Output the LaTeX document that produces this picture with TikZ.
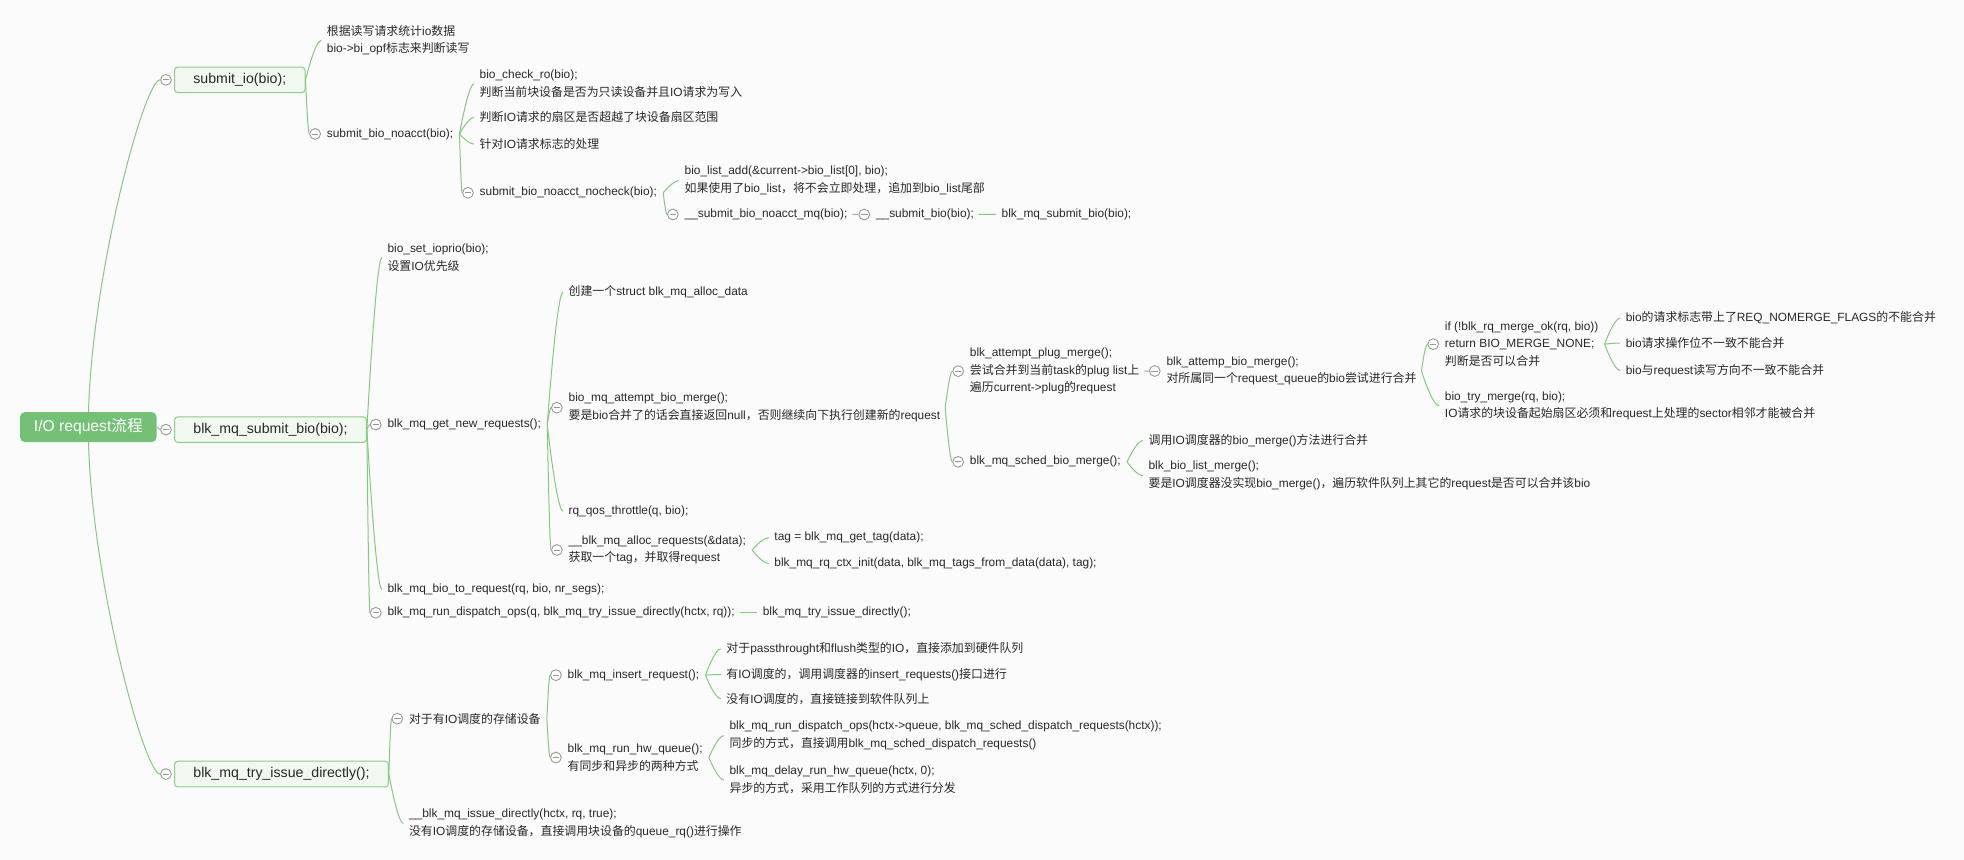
\documentclass[tikz,border=0pt]{standalone}
\usepackage{fontspec}
\setmainfont{Liberation Sans}
\newfontfamily\cjkfont{Noto Sans CJK SC}
\usetikzlibrary{calc,backgrounds}
\XeTeXinterchartokenstate=1
\newXeTeXintercharclass\CJKcls
\makeatletter
\count@="4E00
\loop\XeTeXcharclass\count@=\CJKcls \ifnum\count@<"9FFF \advance\count@ by 1 \repeat
\count@="3000
\loop\XeTeXcharclass\count@=\CJKcls \ifnum\count@<"303F \advance\count@ by 1 \repeat
\count@="FF00
\loop\XeTeXcharclass\count@=\CJKcls \ifnum\count@<"FFEF \advance\count@ by 1 \repeat
\makeatother
\XeTeXinterchartoks 0 \CJKcls = {\cjkfont}
\XeTeXinterchartoks 4095 \CJKcls = {\cjkfont}
\XeTeXinterchartoks \CJKcls 0 = {\rmfamily}
\XeTeXinterchartoks \CJKcls 4095 = {\rmfamily}
\definecolor{linkgreen}{RGB}{132,200,128}
\definecolor{boxgreen}{RGB}{140,205,137}
\definecolor{boxfill}{RGB}{241,248,239}
\definecolor{rootgreen}{RGB}{115,192,118}
\definecolor{foldgray}{RGB}{150,150,150}
\definecolor{txtcol}{RGB}{40,40,40}
\definecolor{bgcol}{RGB}{251,251,251}
\newcommand\lnk[2]{\draw[lnkstyle] let \p1=(#1), \p2=(#2) in (\p1) .. controls (\p1) and ({\x2-0.4*(\x2-\x1)},\y2) .. (\p2);}
\newcommand\rootlnk[2]{\draw[lnkstyle] let \p1=(#1), \p2=(#2) in (\p1) .. controls (\x1,{\y1+0.4*(\y2-\y1)}) and ({\x1+0.77*(\x2-\x1)},\y2) .. (\p2);}
\begin{document}
\begin{tikzpicture}[x=1pt,y=-1pt,
  lnkstyle/.style={draw=linkgreen, line width=0.8pt},
  txt/.style={anchor=base west, inner sep=0pt, outer sep=0pt, align=left, text=txtcol, font=\fontsize{9.5}{14.1}\selectfont},
  fold/.style={circle, draw=foldgray, fill=white, line width=0.7pt, minimum size=8.6pt, inner sep=0pt,
    path picture={\draw[foldgray, line width=0.7pt] ([xshift=-2.6pt]path picture bounding box.center) -- ([xshift=2.6pt]path picture bounding box.center);}},
  topic/.style={anchor=west, draw=boxgreen, fill=boxfill, rounded corners=2.5pt, line width=0.8pt, inner xsep=15pt, inner ysep=0pt, minimum height=20.5pt, text=txtcol, font=\fontsize{11.3}{13}\selectfont, text height=8.3pt, text depth=2.3pt},
  rootbox/.style={fill=rootgreen, text=white, rounded corners=4pt, minimum width=109pt, minimum height=24pt, inner sep=0pt, font=\fontsize{12.5}{14}\selectfont, text height=9pt, text depth=2.6pt}
]
\useasboundingbox (0,0) rectangle (1568,686.6);
\begin{scope}[on background layer]
\fill[bgcol] (0,0) rectangle (1568,686.6);
\end{scope}

% main topics
\node[rootbox] (root) at (70.5,341) {I/O request流程};
\node[topic] (t1) at (139,63.75) {submit\_io(bio);};
\node[topic] (t2) at (139,343) {blk\_mq\_submit\_bio(bio);};
\node[topic] (t3) at (139,618) {blk\_mq\_try\_issue\_directly();};
\node[fold] (c-t1) at ([xshift=-6.5pt]t1.west) {};
\node[fold] (c-t2) at ([xshift=-6.5pt]t2.west) {};
\node[fold] (c-t3) at ([xshift=-6.5pt]t3.west) {};

% branch submit_io (y = baseline of last line)
\node[txt] (a1) at (261,42.3) {根据读写请求统计io数据\\bio->bi\_opf标志来判断读写};
\node[txt] (a2) at (261,109.4) {submit\_bio\_noacct(bio);};
\node[txt] (a21) at (383,77) {bio\_check\_ro(bio);\\判断当前块设备是否为只读设备并且IO请求为写入};
\node[txt] (a22) at (383,97.4) {判断IO请求的扇区是否超越了块设备扇区范围};
\node[txt] (a23) at (383,118.6) {针对IO请求标志的处理};
\node[txt] (a24) at (383,156.4) {submit\_bio\_noacct\_nocheck(bio);};
\node[txt] (a241) at (546.6,153.8) {bio\_list\_add(\&current->bio\_list[0], bio);\\如果使用了bio\_list，将不会立即处理，追加到bio\_list尾部};
\node[txt] (a242) at (546.6,173.7) {\_\_submit\_bio\_noacct\_mq(bio);};
\node[txt] (a243) at (699.4,173.7) {\_\_submit\_bio(bio);};
\node[txt] (a244) at (799.7,173.7) {blk\_mq\_submit\_bio(bio);};

% branch blk_mq_submit_bio
\node[txt] (b1) at (309.4,215.7) {bio\_set\_ioprio(bio);\\设置IO优先级};
\node[txt] (b2) at (309.4,341.4) {blk\_mq\_get\_new\_requests();};
\node[txt] (b3) at (309.4,473.1) {blk\_mq\_bio\_to\_request(rq, bio, nr\_segs);};
\node[txt] (b4) at (309.4,491.7) {blk\_mq\_run\_dispatch\_ops(q, blk\_mq\_try\_issue\_directly(hctx, rq));};
\node[txt] (b41) at (609,491.7) {blk\_mq\_try\_issue\_directly();};
\node[txt] (b21) at (454,236.2) {创建一个struct blk\_mq\_alloc\_data};
\node[txt] (b22) at (454,335) {bio\_mq\_attempt\_bio\_merge();\\要是bio合并了的话会直接返回null，否则继续向下执行创建新的request};
\node[txt] (b23) at (454,410.6) {rq\_qos\_throttle(q, bio);};
\node[txt] (b24) at (454,448.6) {\_\_blk\_mq\_alloc\_requests(\&data);\\获取一个tag，并取得request};
\node[txt] (b241) at (618.3,431.8) {tag = blk\_mq\_get\_tag(data);};
\node[txt] (b242) at (618.3,452.4) {blk\_mq\_rq\_ctx\_init(data, blk\_mq\_tags\_from\_data(data), tag);};
\node[txt] (b221) at (774.4,312.9) {blk\_attempt\_plug\_merge();\\尝试合并到当前task的plug list上\\遍历current->plug的request};
\node[txt] (b222) at (774.4,371.2) {blk\_mq\_sched\_bio\_merge();};
\node[txt] (b2211) at (931.3,305.7) {blk\_attemp\_bio\_merge();\\对所属同一个request\_queue的bio尝试进行合并};
\node[txt] (e1) at (1153.6,291.9) {if (!blk\_rq\_merge\_ok(rq, bio))\\return BIO\_MERGE\_NONE;\\判断是否可以合并};
\node[txt] (e2) at (1153.6,333.6) {bio\_try\_merge(rq, bio);\\IO请求的块设备起始扇区必须和request上处理的sector相邻才能被合并};
\node[txt] (e11) at (1298,257) {bio的请求标志带上了REQ\_NOMERGE\_FLAGS的不能合并};
\node[txt] (e12) at (1298,277.5) {bio请求操作位不一致不能合并};
\node[txt] (e13) at (1298,298.8) {bio与request读写方向不一致不能合并};
\node[txt] (f1) at (917,354.7) {调用IO调度器的bio\_merge()方法进行合并};
\node[txt] (f2) at (917,389.3) {blk\_bio\_list\_merge();\\要是IO调度器没实现bio\_merge()，遍历软件队列上其它的request是否可以合并该bio};

% branch blk_mq_try_issue_directly
\node[txt] (g1) at (326.6,577.4) {对于有IO调度的存储设备};
\node[txt] (g2) at (326.6,666.8) {\_\_blk\_mq\_issue\_directly(hctx, rq, true);\\没有IO调度的存储设备，直接调用块设备的queue\_rq()进行操作};
\node[txt] (g11) at (453.2,541.5) {blk\_mq\_insert\_request();};
\node[txt] (g12) at (453.2,614.9) {blk\_mq\_run\_hw\_queue();\\有同步和异步的两种方式};
\node[txt] (g111) at (580,521) {对于passthrought和flush类型的IO，直接添加到硬件队列};
\node[txt] (g112) at (580,541.5) {有IO调度的，调用调度器的insert\_requests()接口进行};
\node[txt] (g113) at (580,561.4) {没有IO调度的，直接链接到软件队列上};
\node[txt] (g121) at (582.5,596.8) {blk\_mq\_run\_dispatch\_ops(hctx->queue, blk\_mq\_sched\_dispatch\_requests(hctx));\\同步的方式，直接调用blk\_mq\_sched\_dispatch\_requests()};
\node[txt] (g122) at (582.5,632.8) {blk\_mq\_delay\_run\_hw\_queue(hctx, 0);\\异步的方式，采用工作队列的方式进行分发};

% fold markers
\foreach \n in {a2,a24,a242,a243,b2,b4,b22,b24,b221,b222,b2211,e1,g1,g11,g12}
  \node[fold] (c-\n) at ([xshift=-9.4pt]\n.west) {};

% connectors
\begin{scope}[on background layer]
\rootlnk{root.center}{c-t1.west}
\rootlnk{root.center}{c-t3.west}
\end{scope}
\draw[lnkstyle] (root.east) -- (c-t2.west);

\lnk{t1.east}{[xshift=-4.5pt]a1.west}
\lnk{t1.east}{c-a2.west}
\lnk{[xshift=5pt]a2.east}{[xshift=-4.5pt]a21.west}
\lnk{[xshift=5pt]a2.east}{[xshift=-4.5pt]a22.west}
\lnk{[xshift=5pt]a2.east}{[xshift=-4.5pt]a23.west}
\lnk{[xshift=5pt]a2.east}{c-a24.west}
\lnk{[xshift=5pt]a24.east}{[xshift=-4.5pt]a241.west}
\lnk{[xshift=5pt]a24.east}{c-a242.west}
\draw[lnkstyle] ([xshift=4pt]a242.east) -- (c-a243.west);
\draw[lnkstyle] ([xshift=4pt]a243.east) -- ([xshift=-4.5pt]a244.west);

\lnk{t2.east}{[xshift=-4.5pt]b1.west}
\lnk{t2.east}{c-b2.west}
\lnk{t2.east}{[xshift=-4.5pt]b3.west}
\lnk{t2.east}{c-b4.west}
\draw[lnkstyle] ([xshift=4pt]b4.east) -- ([xshift=-4.5pt]b41.west);
\lnk{[xshift=5pt]b2.east}{[xshift=-4.5pt]b21.west}
\lnk{[xshift=5pt]b2.east}{c-b22.west}
\lnk{[xshift=5pt]b2.east}{[xshift=-4.5pt]b23.west}
\lnk{[xshift=5pt]b2.east}{c-b24.west}
\lnk{[xshift=5pt]b24.east}{[xshift=-4.5pt]b241.west}
\lnk{[xshift=5pt]b24.east}{[xshift=-4.5pt]b242.west}
\lnk{[xshift=4pt]b22.east}{c-b221.west}
\lnk{[xshift=4pt]b22.east}{c-b222.west}
\draw[lnkstyle] ([xshift=4pt]b221.east) -- (c-b2211.west);
\lnk{[xshift=4pt]b2211.east}{c-e1.west}
\lnk{[xshift=4pt]b2211.east}{[xshift=-4.5pt]e2.west}
\lnk{[xshift=5pt]e1.east}{[xshift=-4.5pt]e11.west}
\lnk{[xshift=5pt]e1.east}{[xshift=-4.5pt]e12.west}
\lnk{[xshift=5pt]e1.east}{[xshift=-4.5pt]e13.west}
\lnk{[xshift=5pt]b222.east}{[xshift=-4.5pt]f1.west}
\lnk{[xshift=5pt]b222.east}{[xshift=-4.5pt]f2.west}

\lnk{t3.east}{c-g1.west}
\lnk{t3.east}{[xshift=-4.5pt]g2.west}
\lnk{[xshift=5pt]g1.east}{c-g11.west}
\lnk{[xshift=5pt]g1.east}{c-g12.west}
\lnk{[xshift=5pt]g11.east}{[xshift=-4.5pt]g111.west}
\lnk{[xshift=5pt]g11.east}{[xshift=-4.5pt]g112.west}
\lnk{[xshift=5pt]g11.east}{[xshift=-4.5pt]g113.west}
\lnk{[xshift=5pt]g12.east}{[xshift=-4.5pt]g121.west}
\lnk{[xshift=5pt]g12.east}{[xshift=-4.5pt]g122.west}
\end{tikzpicture}
\end{document}
